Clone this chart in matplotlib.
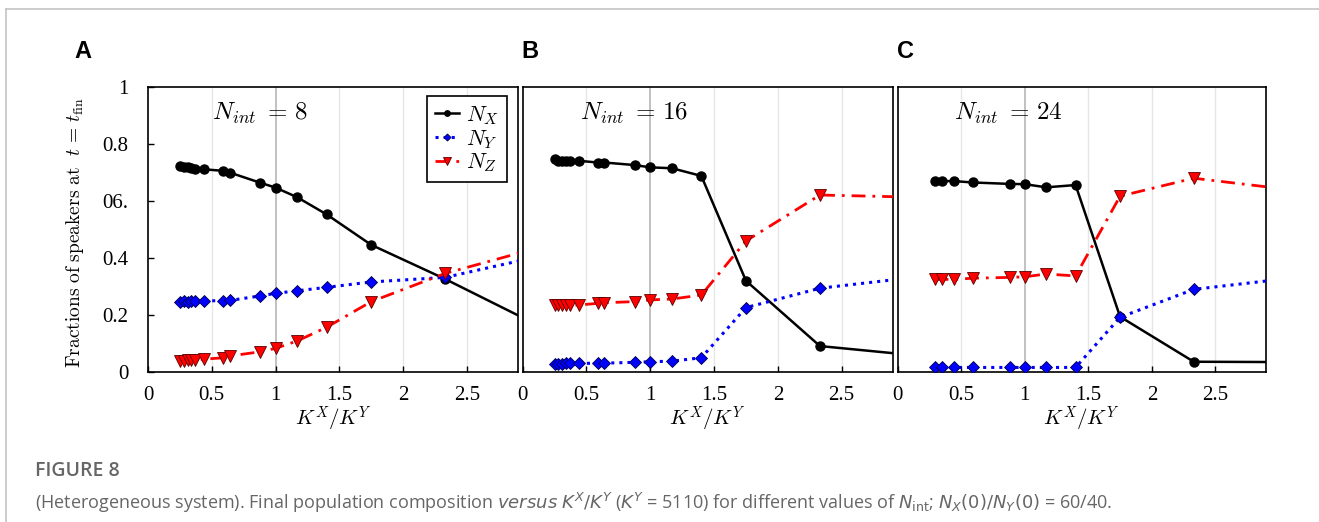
import matplotlib
matplotlib.use("Agg")
import matplotlib.pyplot as plt
from matplotlib.lines import Line2D

plt.rcParams['mathtext.fontset'] = 'cm'
plt.rcParams['font.family'] = ['Liberation Serif', 'DejaVu Serif']

# K^X / K^Y values (last point lies outside the visible range)
k_ab = [0.25, 0.28, 0.31, 0.34, 0.37, 0.44, 0.59, 0.64, 0.88, 1.0, 1.17, 1.4, 1.75, 2.33, 3.5]
k_c = [0.29, 0.35, 0.44, 0.59, 0.88, 1.0, 1.17, 1.4, 1.75, 2.33, 3.5]

# Panel A, N_int = 8
nx_a = [0.723, 0.720, 0.718, 0.716, 0.713, 0.711, 0.706, 0.700, 0.664, 0.647, 0.613, 0.553, 0.446, 0.326, 0.065]
ny_a = [0.247, 0.248, 0.247, 0.250, 0.250, 0.250, 0.250, 0.251, 0.267, 0.276, 0.285, 0.297, 0.316, 0.332, 0.449]
nz_a = [0.040, 0.040, 0.042, 0.042, 0.043, 0.045, 0.050, 0.056, 0.071, 0.083, 0.109, 0.157, 0.247, 0.346, 0.490]

# Panel B, N_int = 16
nx_b = [0.746, 0.742, 0.741, 0.741, 0.741, 0.741, 0.735, 0.735, 0.726, 0.718, 0.715, 0.688, 0.320, 0.091, 0.040]
ny_b = [0.028, 0.028, 0.029, 0.030, 0.030, 0.030, 0.031, 0.031, 0.034, 0.036, 0.038, 0.050, 0.226, 0.294, 0.354]
nz_b = [0.235, 0.235, 0.235, 0.235, 0.235, 0.235, 0.241, 0.243, 0.247, 0.253, 0.256, 0.270, 0.460, 0.621, 0.609]

# Panel C, N_int = 24
nx_c = [0.670, 0.670, 0.670, 0.665, 0.660, 0.659, 0.648, 0.656, 0.194, 0.036, 0.034]
ny_c = [0.016, 0.016, 0.016, 0.016, 0.016, 0.016, 0.016, 0.016, 0.192, 0.290, 0.350]
nz_c = [0.325, 0.325, 0.325, 0.329, 0.332, 0.334, 0.344, 0.337, 0.617, 0.680, 0.618]

panel_letters = ['A', 'B', 'C']
n_int = [8, 16, 24]
x_ticks = [0, 0.5, 1, 1.5, 2, 2.5]
x_ticklabels = ['0', '0.5', '1', '1.5', '2', '2.5']
y_ticks = [0, 0.2, 0.4, 0.6, 0.8, 1]
y_ticklabels = ['0', '0.2', '0.4', '06.', '0.8', '1']

panels = [
    (k_ab, nx_a, ny_a, nz_a),
    (k_ab, nx_b, ny_b, nz_b),
    (k_c, nx_c, ny_c, nz_c),
]

W, H = 1319, 522
fig = plt.figure(figsize=(W / 100, H / 100), dpi=100)

# page frame lines (top and left)
fig.add_artist(Line2D([6 / W, 1], [1 - 9 / H, 1 - 9 / H], color='#c4c4c4', lw=1.2))
fig.add_artist(Line2D([6 / W, 6 / W], [0, 1 - 9 / H], color='#c4c4c4', lw=1.2))

lefts = [148, 522.7, 897.7]
widths = [370, 370, 368.5]
letter_x = [83, 530, 905]
text_x = [0.50, 0.45, 0.44]

for i, (k, nx, ny, nz) in enumerate(panels):
    ax = fig.add_axes([lefts[i] / W, 1 - 372 / H, widths[i] / W, 285 / H])
    ax.set_xlim(0, 2.9)
    ax.set_ylim(0, 1)

    for xv in [0.5, 1.5, 2, 2.5]:
        ax.axvline(xv, color='#e6e6e6', lw=1, zorder=0)
    ax.axvline(1, color='#b0b0b0', lw=1.1, zorder=0)

    ax.plot(k, nx, '-', color='black', lw=1.8, marker='o', ms=6.5,
            mfc='black', mec='black', label=r'$N_X$', zorder=3)
    ax.plot(k, ny, ':', color='#0000ff', lw=2.2, marker='D', ms=6,
            mfc='#0000ff', mec='#00004a', mew=0.6, label=r'$N_Y$', zorder=3)
    ax.plot(k, nz, color='#ff0000', lw=2, dashes=(5, 2.5, 1, 2.5), marker='v', ms=8.5,
            mfc='#ff0000', mec='#5a0000', mew=0.6, label=r'$N_Z$', zorder=3)

    ax.set_xticks(x_ticks)
    ax.set_xticklabels(x_ticklabels)
    ax.tick_params(axis='x', direction='in', length=4, width=1, labelsize=15, pad=10)
    if i == 0:
        ax.set_yticks(y_ticks)
        ax.set_yticklabels(y_ticklabels)
        ax.tick_params(axis='y', direction='in', length=4, width=1, labelsize=15, pad=14)
    else:
        ax.set_yticks([])
    for s in ax.spines.values():
        s.set_linewidth(1.2)

    ax.text(text_x[i], 0.885, r'$N_{int}\;=\,%d$' % n_int[i], fontsize=18, va='baseline')
    ax.text(0.5, -0.168, r'$K^X/K^Y$', transform=ax.transAxes, fontsize=15,
            ha='center', va='center')

    fig.text(letter_x[i] / W, 1 - 52 / H, panel_letters[i], fontsize=17, fontweight='bold',
             family='Liberation Sans', ha='center', va='center')

    if i == 0:
        leg = ax.legend(loc='upper right', bbox_to_anchor=(0.970, 0.968), borderaxespad=0,
                        fontsize=16, frameon=True, fancybox=False, edgecolor='black',
                        framealpha=1, handlelength=1.1, handletextpad=0.3,
                        labelspacing=0.05, borderpad=0.35, markerscale=0.6)
        leg.get_frame().set_linewidth(1.2)

fig.text(75 / W, 1 - 233 / H, r'$\mathrm{Fractions\ of\ speakers\ at}\ \ t\, =\, t_{\rm fin}$',
         rotation=90, fontsize=14, ha='center', va='center')

fig.text(35 / W, 1 - 471 / H, 'FIGURE 8', fontsize=14, fontweight='semibold',
         family='Open Sans', color='#666666', ha='left', va='center')
fig.text(35 / W, 1 - 503 / H,
         r'(Heterogeneous system). Final population composition $\mathit{versus}$ $K^X/K^Y$ '
         r'($K^Y$ = 5110) for different values of $N_{\mathrm{int}}$; $N_X(0)/N_Y(0)$ = 60/40.',
         fontsize=13, family='Open Sans', color='#666666', ha='left', va='center',
         math_fontfamily='dejavusans')

fig.savefig('out.png', dpi=100)
